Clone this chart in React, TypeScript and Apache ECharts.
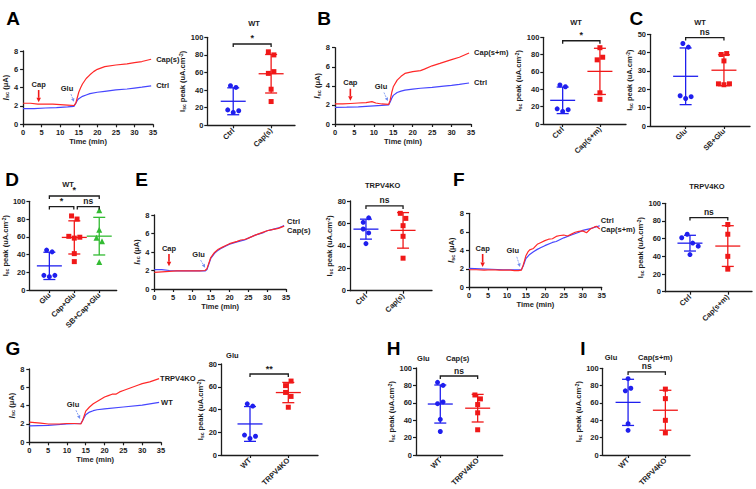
import React, { useEffect, useRef } from "react";
import * as echarts from "echarts";

// ===== Time courses: time (min) and Isc (μA) =====
const aCapT = [0, 2, 4, 6, 8, 10, 12, 13.7, 14.2, 14.6, 15, 15.5, 16, 17, 18, 19, 20, 22, 25, 28, 30, 32, 34.5];
const aCapV = [2.3, 2.3, 2.2, 2.2, 2.2, 2.15, 2.1, 2.05, 2.3, 2.9, 3.5, 4.0, 4.4, 5.0, 5.4, 5.75, 6.0, 6.3, 6.47, 6.6, 6.73, 6.85, 7.1];
const aCtrlT = [0, 3, 6, 9, 12, 13.7, 14.2, 14.6, 15, 16, 17, 18, 20, 22, 25, 28, 30, 32, 34.5];
const aCtrlV = [1.7, 1.72, 1.78, 1.82, 1.9, 1.95, 2.3, 2.6, 2.8, 3.05, 3.2, 3.35, 3.5, 3.6, 3.75, 3.85, 3.95, 4.05, 4.2];

const bCapT = [0, 2, 4, 6, 8, 9.5, 10.5, 12, 13.8, 14.2, 14.6, 15, 16, 17, 18, 20, 22, 23, 25, 27, 30, 32, 34.5];
const bCapV = [2.1, 2.1, 2.15, 2.2, 2.25, 2.35, 2.2, 2.1, 2.05, 2.5, 3.3, 3.9, 4.6, 5.0, 5.3, 5.5, 5.6, 5.75, 6.1, 6.35, 6.75, 7.0, 7.45];
const bCtrlT = [0, 3, 6, 9, 12, 13.8, 14.2, 14.6, 15, 16, 17, 18, 20, 22, 25, 28, 30, 32, 34.5];
const bCtrlV = [1.75, 1.77, 1.8, 1.88, 1.95, 2.0, 2.3, 2.7, 3.0, 3.3, 3.45, 3.55, 3.65, 3.75, 3.85, 3.97, 4.05, 4.15, 4.3];

const eT = [0, 2, 4, 6, 8, 10, 12, 13.5, 14, 14.5, 15, 16, 17, 18, 19, 20, 22, 23, 24, 25, 27, 29, 30, 31, 33, 34.5];
const eCtrlV = [2.1, 2.1, 2.0, 1.95, 1.95, 1.95, 1.95, 1.95, 2.1, 2.7, 3.3, 3.85, 4.2, 4.45, 4.65, 4.85, 5.1, 5.2, 5.3, 5.5, 5.85, 6.1, 6.3, 6.4, 6.6, 6.85];
const eCapV = [1.8, 1.85, 1.9, 1.95, 1.95, 1.95, 1.97, 2.0, 2.2, 2.8, 3.4, 3.95, 4.3, 4.5, 4.7, 4.9, 5.15, 5.3, 5.35, 5.5, 5.85, 6.15, 6.3, 6.4, 6.55, 6.8];

const fCtrlT = [0, 3, 6, 9, 12, 13.8, 14.3, 15, 16, 17, 18, 19, 20, 22, 23, 25, 27, 29, 30, 32, 34.5];
const fCtrlV = [2.05, 2.0, 1.95, 1.9, 1.9, 1.9, 2.3, 3.1, 3.55, 3.85, 4.1, 4.3, 4.5, 4.85, 4.95, 5.35, 5.65, 5.95, 6.15, 6.35, 6.65];
const fCapT = [0, 2, 4, 6, 8, 10, 11, 12, 13, 13.8, 14.3, 15, 15.5, 16, 17, 18, 19, 20, 21, 22, 23, 24, 25, 26, 27, 28, 29, 30, 31, 32, 33, 33.6, 34.5];
const fCapV = [1.9, 1.9, 1.85, 1.9, 1.85, 1.85, 1.85, 1.8, 1.8, 1.85, 2.4, 3.4, 3.8, 4.05, 4.2, 4.65, 4.85, 5.05, 5.2, 5.25, 5.5, 5.6, 5.65, 5.55, 5.75, 5.95, 6.05, 6.1, 5.9, 6.3, 6.5, 6.6, 6.3];

const gKoT = [0, 3, 5, 8, 10, 12, 13.7, 14.2, 15, 16, 17, 18, 19, 20, 21, 22, 23, 24, 25, 27, 29, 30, 32, 34.5];
const gKoV = [2.2, 2.1, 2.0, 2.0, 2.05, 2.05, 2.0, 2.4, 3.4, 3.85, 4.2, 4.45, 4.7, 4.95, 5.1, 5.25, 5.25, 5.5, 5.65, 5.95, 6.25, 6.4, 6.6, 6.95];
const gWtT = [0, 5, 10, 13.7, 14.2, 15, 16, 17, 18, 20, 25, 30, 34.5];
const gWtV = [1.8, 1.85, 2.0, 2.05, 2.4, 3.0, 3.3, 3.45, 3.55, 3.65, 3.85, 4.05, 4.35];

// ===== Peak Isc (uA.cm-2), individual points =====
const wtCtrl = [45, 43, 17.5, 14.5, 16.5];
const wtCapS = [83.5, 80, 59, 61, 41, 27];
const wtCapSM = [88, 74, 77, 36, 28.5];
const cGlu = [45, 43, 16.5, 15, 16];
const cSbGlu = [39, 39.5, 35.5, 23, 22.5, 23];
const dGlu = [45, 43, 16.5, 15, 16.5];
const dCapGlu = [83.5, 80, 60.5, 58.5, 59.5, 41, 32];
const dSbCapGlu = [90, 68, 59, 55, 31.5];
const koCtrl = [61, 65, 55, 51.5, 42];
const koCapS = [69, 64.5, 58, 48.5, 29];
const koCapSM = [76, 65, 40, 25.5];

// ===== Category labels =====
const catsA = ["Ctrl", "Cap(s)"];
const catsB = ["Ctrl", "Cap(s+m)"];
const catsC = ["Glu", "SB+Glu"];
const catsD = ["Glu", "Cap+Glu", "SB+Cap+Glu"];
const catsKo = ["WT", "TRPV4KO"];

const FONT = "'Liberation Sans', Arial, sans-serif";
const INK = "#1c1c1c";
const RED = "#f01818";
const BLUE = "#1f1fee";
const GREEN = "#33bb33";
const RED_LINE = "#ff2828";
const BLUE_LINE = "#4646ff";
const GLU_ARROW = "#6f8cf0";

function meanSd(v: number[]) {
  const m = v.reduce((a, b) => a + b, 0) / v.length;
  const s = Math.sqrt(v.reduce((a, b) => a + (b - m) * (b - m), 0) / (v.length - 1));
  return { m, s };
}

// beeswarm-like horizontal spreading of overlapping points
function swarm(vals: number[], pxPerUnit: number, catPx: number) {
  const thr = 5.5, step = 5.5;
  const idx = vals.map((_, i) => i).sort((a, b) => vals[b] - vals[a]);
  const clusters: number[][] = [];
  let cur = [idx[0]];
  for (let k = 1; k < idx.length; k++) {
    if ((vals[idx[k - 1]] - vals[idx[k]]) * pxPerUnit < thr) cur.push(idx[k]);
    else { clusters.push(cur); cur = [idx[k]]; }
  }
  clusters.push(cur);
  const off = new Array(vals.length).fill(0);
  clusters.forEach((c) => {
    const s = [...c].sort((a, b) => a - b);
    s.forEach((i, j) => { off[i] = ((j - (s.length - 1) / 2) * step) / catPx; });
  });
  return off;
}

const lbl = { fontFamily: FONT, fontWeight: "bold" as const, fontSize: 7.5, color: INK };
const axLine = { show: true, onZero: false, lineStyle: { color: INK, width: 1.3 } };
const axTick = { show: true, length: 3, lineStyle: { color: INK, width: 1.2 } };

function buildOption() {
  const grid: any[] = [], xAxis: any[] = [], yAxis: any[] = [], series: any[] = [], graphic: any[] = [];

  function addLine(p: any) {
    const gi = grid.length;
    grid.push({ left: p.left, top: p.top, width: p.width, height: p.height });
    xAxis.push({
      gridIndex: gi, type: "value", min: 0, max: 35, interval: 5,
      name: "Time (min)", nameLocation: "middle", nameGap: 13,
      nameTextStyle: { ...lbl },
      axisLine: axLine, axisTick: axTick, axisLabel: { ...lbl, margin: 4 }, splitLine: { show: false },
    });
    yAxis.push({
      gridIndex: gi, type: "value", min: 0, max: 8, interval: 2,
      name: "{i|I}{s|sc}{n| (μA)}", nameLocation: "middle", nameGap: 12,
      nameTextStyle: {
        rich: {
          i: { fontFamily: FONT, fontStyle: "italic", fontWeight: "bold", fontSize: 8.5, color: INK },
          s: { fontFamily: FONT, fontWeight: "bold", fontSize: 5.5, color: INK, verticalAlign: "bottom" },
          n: { fontFamily: FONT, fontWeight: "bold", fontSize: 7.5, color: INK },
        },
      },
      axisLine: axLine, axisTick: axTick, axisLabel: { ...lbl, margin: 5 }, splitLine: { show: false },
    });
    p.curves.forEach((c: any) => {
      series.push({
        type: "line", xAxisIndex: gi, yAxisIndex: gi, z: c.z || 2,
        data: c.t.map((t: number, i: number) => [t, c.v[i]]),
        showSymbol: false, symbol: "none", smooth: false,
        lineStyle: { color: c.color, width: 1.2 },
        endLabel: { show: true, formatter: c.label, offset: c.offset || [0, 0], distance: 5, ...lbl },
      });
    });
    series.push({
      type: "custom", xAxisIndex: gi, yAxisIndex: gi, clip: false, z: 5,
      encode: { x: [0, 2], y: [1, 3] },
      data: p.arrows.map((a: any) => [a.x1, a.y1, a.x2, a.y2]),
      renderItem: (params: any, api: any) => {
        const a = p.arrows[params.dataIndex];
        const p1 = api.coord([api.value(0), api.value(1)]);
        const p2 = api.coord([api.value(2), api.value(3)]);
        const ang = Math.atan2(p2[1] - p1[1], p2[0] - p1[0]);
        const hl = a.head, hw = a.head * 0.5;
        const bx = p2[0] - hl * Math.cos(ang), by = p2[1] - hl * Math.sin(ang);
        const nx = -Math.sin(ang), ny = Math.cos(ang);
        return {
          type: "group",
          children: [
            { type: "line", shape: { x1: p1[0], y1: p1[1], x2: bx, y2: by }, style: { stroke: a.color, lineWidth: a.width, lineDash: a.dash } },
            { type: "polygon", shape: { points: [[p2[0], p2[1]], [bx + nx * hw, by + ny * hw], [bx - nx * hw, by - ny * hw]] }, style: { fill: a.color } },
            { type: "text", x: p1[0] + a.dx, y: p1[1] - 2, style: { text: a.text, align: "center", verticalAlign: "bottom", fontFamily: FONT, fontWeight: "bold", fontSize: 7.5, fill: INK } },
          ],
        };
      },
    });
  }

  function addScatter(p: any) {
    const gi = grid.length;
    grid.push({ left: p.left, top: p.top, width: p.width, height: p.height });
    const ticks = p.cats.map((_: string, i: number) => i);
    xAxis.push({
      gridIndex: gi, type: "value", min: p.xmin, max: p.xmax,
      axisLine: axLine,
      axisTick: { ...axTick, customValues: ticks },
      axisLabel: { ...lbl, customValues: ticks, rotate: 45, margin: 4, formatter: (v: number) => p.cats[Math.round(v)] },
      splitLine: { show: false },
    });
    yAxis.push({
      gridIndex: gi, type: "value", min: 0, max: p.ymax, interval: p.yint,
      name: "{n|I}{s|sc}{n| peak (uA.cm}{p|-2}{n|)}", nameLocation: "middle", nameGap: p.nameGap || 16,
      nameTextStyle: {
        rich: {
          n: { fontFamily: FONT, fontWeight: "bold", fontSize: 7.5, color: INK },
          s: { fontFamily: FONT, fontWeight: "bold", fontSize: 5, color: INK, verticalAlign: "bottom" },
          p: { fontFamily: FONT, fontWeight: "bold", fontSize: 5, color: INK, verticalAlign: "top" },
        },
      },
      axisLine: axLine, axisTick: axTick, axisLabel: { ...lbl, margin: 4 }, splitLine: { show: false },
    });
    const pxPerUnit = p.height / p.ymax;
    const catPx = p.width / (p.xmax - p.xmin);
    p.groups.forEach((g: any, k: number) => {
      const off = swarm(g.vals, pxPerUnit, catPx);
      const { m, s } = meanSd(g.vals);
      series.push({
        type: "custom", xAxisIndex: gi, yAxisIndex: gi, clip: false, z: 2,
        encode: { x: 0, y: 1 },
        data: [[k, m, s]],
        renderItem: (_params: any, api: any) => {
          const x = api.value(0), mm = api.value(1), ss = api.value(2);
          const c = api.coord([x, mm]), t = api.coord([x, mm + ss]), b = api.coord([x, mm - ss]);
          const st = { stroke: g.color, lineWidth: 1.3 };
          return {
            type: "group",
            children: [
              { type: "line", shape: { x1: c[0] - 12.5, y1: c[1], x2: c[0] + 12.5, y2: c[1] }, style: st },
              { type: "line", shape: { x1: t[0], y1: t[1], x2: b[0], y2: b[1] }, style: st },
              { type: "line", shape: { x1: t[0] - 6, y1: t[1], x2: t[0] + 6, y2: t[1] }, style: st },
              { type: "line", shape: { x1: b[0] - 6, y1: b[1], x2: b[0] + 6, y2: b[1] }, style: st },
            ],
          };
        },
      });
      series.push({
        type: "scatter", xAxisIndex: gi, yAxisIndex: gi, z: 4,
        data: g.vals.map((v: number, i: number) => [k + off[i], v]),
        symbol: g.symbol, symbolSize: g.size, itemStyle: { color: g.color, opacity: 1 },
      });
    });
    series.push({
      type: "custom", xAxisIndex: gi, yAxisIndex: gi, clip: false, z: 5,
      encode: { x: [0, 1], y: 2 },
      data: p.brackets.map((b: any) => [b.x1, b.x2, b.y]),
      renderItem: (params: any, api: any) => {
        const br = p.brackets[params.dataIndex];
        const l = api.coord([api.value(0), api.value(2)]);
        const r = api.coord([api.value(1), api.value(2)]);
        const st = { stroke: INK, lineWidth: 1.3 };
        return {
          type: "group",
          children: [
            { type: "polyline", shape: { points: [[l[0], l[1] + 3], [l[0], l[1]], [r[0], r[1]], [r[0], r[1] + 3]] }, style: { ...st, fill: "none" } },
            { type: "text", x: (l[0] + r[0]) / 2, y: l[1] - 1, style: { text: br.text, align: "center", verticalAlign: "bottom", fontFamily: FONT, fontWeight: "bold", fontSize: br.text === "ns" ? 8.5 : 9, fill: INK } },
          ],
        };
      },
    });
  }

  const capArrow = { color: RED, width: 1.6, head: 4.5, dx: 0, text: "Cap" };
  const gluArrow = { color: GLU_ARROW, width: 0.8, head: 3.5, dash: [2, 1], text: "Glu" };

  // ---- line panels ----
  addLine({
    left: 22, top: 51, width: 131, height: 73.3,
    curves: [
      { t: aCtrlT, v: aCtrlV, color: BLUE_LINE, label: "Ctrl" },
      { t: aCapT, v: aCapV, color: RED_LINE, label: "Cap(s)", z: 3 },
    ],
    arrows: [
      { ...capArrow, x1: 4.2, y1: 3.74, x2: 4.2, y2: 2.4 },
      { ...gluArrow, x1: 12.9, y1: 3.3, x2: 13.7, y2: 2.45, dx: -4 },
    ],
  });
  addLine({
    left: 335, top: 47.7, width: 136, height: 76.3,
    curves: [
      { t: bCtrlT, v: bCtrlV, color: BLUE_LINE, label: "Ctrl" },
      { t: bCapT, v: bCapV, color: RED_LINE, label: "Cap(s+m)", z: 3 },
    ],
    arrows: [
      { ...capArrow, x1: 3.95, y1: 3.7, x2: 3.95, y2: 2.45 },
      { ...gluArrow, x1: 12.6, y1: 3.3, x2: 13.6, y2: 2.4, dx: -3 },
    ],
  });
  addLine({
    left: 154.3, top: 215, width: 131.7, height: 74,
    curves: [
      { t: eT, v: eCtrlV, color: BLUE_LINE, label: "Ctrl", offset: [-2, -4.5] },
      { t: eT, v: eCapV, color: RED_LINE, label: "Cap(s)", offset: [-2, 4], z: 3 },
    ],
    arrows: [
      { ...capArrow, x1: 3.9, y1: 3.78, x2: 3.9, y2: 2.45 },
      { ...gluArrow, x1: 12.3, y1: 3.13, x2: 13.5, y2: 2.3, dx: -2 },
    ],
  });
  addLine({
    left: 469, top: 213.3, width: 132.7, height: 74,
    curves: [
      { t: fCtrlT, v: fCtrlV, color: BLUE_LINE, label: "Ctrl", offset: [-4, -5] },
      { t: fCapT, v: fCapV, color: RED_LINE, label: "Cap(s+m)", offset: [-4, 0], z: 3 },
    ],
    arrows: [
      { ...capArrow, x1: 3.6, y1: 3.6, x2: 3.6, y2: 2.2 },
      { ...gluArrow, x1: 12.6, y1: 3.3, x2: 13.45, y2: 2.2, dx: -4 },
    ],
  });
  addLine({
    left: 29.3, top: 369, width: 131.7, height: 73.3,
    curves: [
      { t: gWtT, v: gWtV, color: BLUE_LINE, label: "WT", offset: [-3, 0] },
      { t: gKoT, v: gKoV, color: RED_LINE, label: "TRPV4KO", offset: [-4, 0], z: 3 },
    ],
    arrows: [{ ...gluArrow, x1: 12.4, y1: 3.5, x2: 13.5, y2: 2.55, dx: -3 }],
  });

  const blue = (vals: number[]) => ({ vals, color: BLUE, symbol: "circle", size: 5 });
  const red = (vals: number[]) => ({ vals, color: RED, symbol: "rect", size: 5 });
  const green = (vals: number[]) => ({ vals, color: GREEN, symbol: "triangle", size: 6 });

  // ---- scatter panels ----
  addScatter({ left: 207.3, top: 37.3, width: 87.7, height: 88, xmin: -0.684, xmax: 1.63, ymax: 100, yint: 20, cats: catsA,
    groups: [blue(wtCtrl), red(wtCapS)], brackets: [{ x1: 0, x2: 1, y: 92.4, text: "*" }] });
  addScatter({ left: 543.3, top: 37.3, width: 82.7, height: 86.7, xmin: -0.52, xmax: 1.7, ymax: 100, yint: 20, cats: catsB,
    groups: [blue(wtCtrl), red(wtCapSM)], brackets: [{ x1: 0, x2: 1, y: 96, text: "*" }] });
  addScatter({ left: 650, top: 34.3, width: 100, height: 91.7, xmin: -0.93, xmax: 1.68, ymax: 50, yint: 10, cats: catsC,
    groups: [blue(cGlu), red(cSbGlu)], brackets: [{ x1: 0, x2: 1, y: 48.2, text: "ns" }] });
  addScatter({ left: 29.3, top: 201.3, width: 87.4, height: 88.7, xmin: -0.8, xmax: 2.7, ymax: 100, yint: 20, cats: catsD,
    groups: [blue(dGlu), red(dCapGlu), green(dSbCapGlu)],
    brackets: [{ x1: 0, x2: 2, y: 106, text: "*" }, { x1: 0, x2: 0.98, y: 94, text: "*" }, { x1: 1.12, x2: 2, y: 94, text: "ns" }] });
  addScatter({ left: 350, top: 201, width: 82, height: 89.7, xmin: -0.43, xmax: 1.78, ymax: 80, yint: 20, cats: ["Ctrl", "Cap(s)"],
    groups: [blue(koCtrl), red(koCapS)], brackets: [{ x1: 0, x2: 1, y: 75.6, text: "ns" }] });
  addScatter({ left: 665, top: 203.3, width: 87, height: 88.4, xmin: -0.66, xmax: 1.64, ymax: 100, yint: 20, cats: ["Ctrl", "Cap(s+m)"],
    groups: [blue(koCtrl), red(koCapSM)], brackets: [{ x1: 0, x2: 1, y: 83.8, text: "ns" }] });
  addScatter({ left: 221, top: 364, width: 97, height: 91, xmin: -0.757, xmax: 1.775, ymax: 80, yint: 20, cats: catsKo,
    groups: [blue(wtCtrl), red(koCtrl)], brackets: [{ x1: 0, x2: 1, y: 71.2, text: "**" }] });
  addScatter({ left: 416, top: 368, width: 86.7, height: 87.3, xmin: -0.65, xmax: 1.67, ymax: 100, yint: 20, cats: catsKo,
    groups: [blue(wtCapS), red(koCapS)], brackets: [{ x1: 0, x2: 1, y: 90.8, text: "ns" }] });
  addScatter({ left: 602.7, top: 368.3, width: 87.3, height: 87.4, xmin: -0.68, xmax: 1.66, ymax: 100, yint: 20, cats: catsKo,
    groups: [blue(wtCapSM), red(koCapSM)], brackets: [{ x1: 0, x2: 1, y: 95.8, text: "ns" }] });

  // ---- panel letters & titles ----
  const letters: [string, number, number][] = [
    ["A", 13, 18.5], ["B", 324.2, 18], ["C", 636.3, 18], ["D", 12.2, 179.5], ["E", 141.7, 179.5],
    ["F", 458.8, 179.5], ["G", 13, 348], ["H", 393.5, 348], ["I", 582.8, 348],
  ];
  letters.forEach(([t, x, y]) => graphic.push({ type: "text", x, y, style: { text: t, align: "center", verticalAlign: "middle", fontFamily: FONT, fontWeight: "bold", fontSize: 19, fill: "#000" } }));
  const titles: [string, number, number][] = [
    ["WT", 254, 23], ["WT", 576, 22.7], ["WT", 700, 22.7], ["WT", 68, 184.3],
    ["TRPV4KO", 382.7, 185.7], ["TRPV4KO", 707, 186.7], ["Glu", 232.3, 355],
    ["Glu", 423.3, 358.7], ["Cap(s)", 457.7, 358.7], ["Glu", 611, 357.7], ["Cap(s+m)", 655.3, 357.7],
  ];
  titles.forEach(([t, x, y]) => graphic.push({ type: "text", x, y, style: { text: t, align: "center", verticalAlign: "middle", fontFamily: FONT, fontWeight: "bold", fontSize: 7.5, fill: INK } }));

  return { animation: false, backgroundColor: "#fff", grid, xAxis, yAxis, series, graphic };
}

export default function App() {
  const ref = useRef<HTMLDivElement>(null);
  useEffect(() => {
    document.body.style.margin = "0";
    const chart = echarts.init(ref.current!, null, { renderer: "svg" });
    chart.setOption(buildOption() as any);
    return () => chart.dispose();
  }, []);
  return <div ref={ref} style={{ position: "absolute", left: 0, top: 0, width: 756, height: 489 }} />;
}
